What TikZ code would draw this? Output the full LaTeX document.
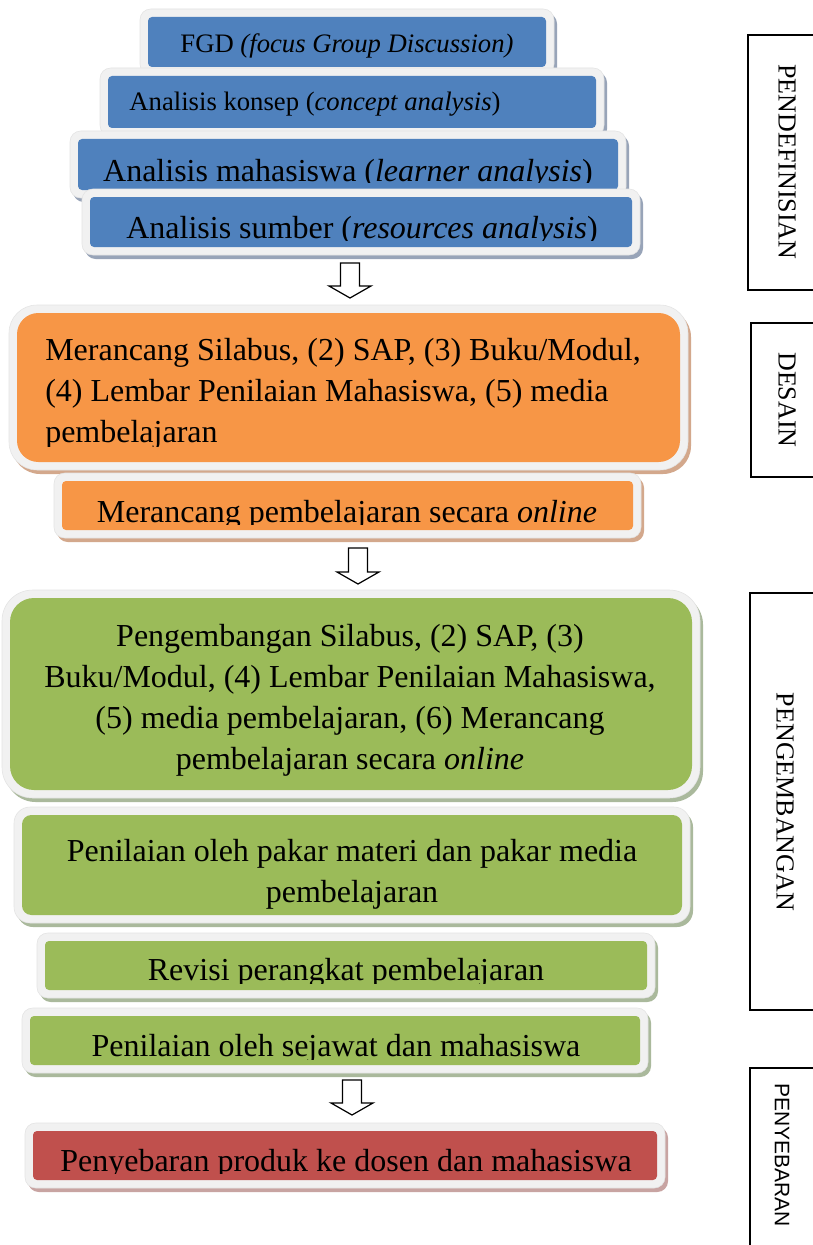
\documentclass[tikz,border=0pt]{standalone}
\usepackage{fontspec}
\setmainfont{Liberation Serif}
\newfontfamily\labsans{Liberation Sans}
\usetikzlibrary{fit}
\definecolor{cblue}{HTML}{4F81BD}
\definecolor{corange}{HTML}{F79646}
\definecolor{cgreen}{HTML}{9BBB59}
\definecolor{cred}{HTML}{C0504D}
\definecolor{sblue}{HTML}{98A4B8}
\definecolor{sorange}{HTML}{D3A88C}
\definecolor{sgreen}{HTML}{AAB99C}
\definecolor{sred}{HTML}{C8A4A2}
\definecolor{framec}{HTML}{F1F1F1}
\tikzset{
  bigtxt/.style={font=\fontsize{24pt}{30.75pt}\selectfont, inner sep=0pt},
  smalltxt/.style={font=\fontsize{20pt}{25pt}\selectfont, inner sep=0pt},
  labelbox/.style={draw=black, line width=0.9pt, inner sep=0pt},
  labeltxt/.style={font=\fontsize{19.5pt}{22pt}\selectfont, rotate=-90, inner sep=0pt},
  blockarrow/.style={draw=black, fill=white, line width=0.9pt, line join=miter},
}
% #1 name, #2 x1, #3 y1, #4 x2, #5 y2, #6 colour key, #7 radius (pt)
\newcommand\panel[7]{%
  \fill[s#6, rounded corners=#7+5] (#2-8+3,#3-8+4) rectangle (#4+8+3,#5+8+4);
  \fill[framec, draw=gray!22, line width=0.4pt, rounded corners=#7+5] (#2-8,#3-8) rectangle (#4+8,#5+8);
  \node[fit={(#2,#3) (#4,#5)}, inner sep=0pt, fill=c#6, rounded corners=#7] (#1) {};
}
% #1 name, #2 x, #3 baseline y, #4 clip y, #5 style, #6 text
\newcommand\cliptext[6]{%
  \begin{scope}
    \clip (0,0) rectangle (813,#4);
    \node[#5, anchor=base] (#1) at (#2,#3) {#6};
  \end{scope}
}
% #1 centre x, #2 top y, #3 tip y
\newcommand\downblock[3]{%
  \draw[blockarrow] (#1-9.5,#2) -- (#1+9.5,#2) -- (#1+9.5,#3-12) -- (#1+21,#3-12)
    -- (#1,#3) -- (#1-21,#3-12) -- (#1-9.5,#3-12) -- cycle;
}
\begin{document}
\begin{tikzpicture}[x=0.75pt,y=-0.75pt]
\useasboundingbox (0,0) rectangle (813,1245);
\fill[white] (0,0) rectangle (813,1245);
\clip (0,0) rectangle (813,1245);

% ---- PENDEFINISIAN ----
\panel{fgd}{148}{17}{546}{67}{blue}{3}
\node[smalltxt, anchor=base] (fgdt) at (347,53) {FGD \textit{(focus Group Discussion)}};
\panel{konsep}{108}{76}{596}{128}{blue}{3}
\node[smalltxt, anchor=base] (konsept) at (315,111) {Analisis konsep (\textit{concept analysis})};
\panel{mhs}{78}{139}{618}{190}{blue}{3}
\cliptext{mhst}{348}{181}{183}{bigtxt}{Analisis mahasiswa (\textit{learner analysis})}
\panel{sumber}{90}{197}{632}{247}{blue}{3}
\cliptext{sumbert}{362}{238}{240}{bigtxt}{Analisis sumber (\textit{resources analysis})}

\downblock{350}{263}{298}

% ---- DESAIN ----
\panel{orbig}{17}{313}{680}{462}{orange}{16}
\begin{scope}
  \clip (0,0) rectangle (813,446);
  \node[bigtxt, anchor=base west, align=left] (orbigt) at (45,442)
    {Merancang Silabus, (2) SAP, (3) Buku/Modul,\\(4) Lembar Penilaian Mahasiswa, (5) media\\pembelajaran};
\end{scope}
\panel{orsm}{62}{481}{633}{530}{orange}{3}
\cliptext{orsmt}{347}{522}{524}{bigtxt}{Merancang pembelajaran secara \textit{online}}

\downblock{358}{548}{584}

% ---- PENGEMBANGAN ----
\panel{grbig}{10}{598}{692}{790}{green}{18}
\begin{scope}
  \clip (0,0) rectangle (813,775);
  \node[bigtxt, anchor=base, align=center] (grbigt) at (350,769)
    {Pengembangan Silabus, (2) SAP, (3)\\Buku/Modul, (4) Lembar Penilaian Mahasiswa,\\(5) media pembelajaran, (6) Merancang\\pembelajaran secara \textit{online}};
\end{scope}
\panel{grtwo}{22}{815}{682}{915}{green}{7}
\node[bigtxt, anchor=base, align=center] (grtwot) at (352,902)
  {Penilaian oleh pakar materi dan pakar media\\pembelajaran};
\panel{revisi}{45}{941}{647}{990}{green}{3}
\cliptext{revisit}{346}{980}{983}{bigtxt}{Revisi perangkat pembelajaran}
\panel{sejawat}{30}{1016}{640}{1065}{green}{3}
\cliptext{sejawatt}{336}{1056}{1059}{bigtxt}{Penilaian oleh sejawat dan mahasiswa}

\downblock{352}{1080}{1115}

% ---- PENYEBARAN ----
\panel{sebar}{33}{1131}{657}{1180}{red}{3}
\cliptext{sebart}{346}{1171}{1173}{bigtxt}{Penyebaran produk ke dosen dan mahasiswa}

% ---- stage labels ----
\node[labelbox, fit={(748,35) (840,290)}] (lab1) {};
\node[labeltxt] (lab1t) at (787,162) {PENDEFINISIAN};
\node[labelbox, fit={(751,323) (840,477)}] (lab2) {};
\node[labeltxt] (lab2t) at (787,400) {DESAIN};
\node[labelbox, fit={(750,593) (840,1010)}] (lab3) {};
\node[labeltxt] (lab3t) at (785,802) {PENGEMBANGAN};
\node[labelbox, fit={(750,1068) (840,1260)}] (lab4) {};
\node[labeltxt, font=\labsans\fontsize{15.75pt}{18pt}\selectfont] (lab4t) at (782,1155) {PENYEBARAN};
\end{tikzpicture}
\end{document}
